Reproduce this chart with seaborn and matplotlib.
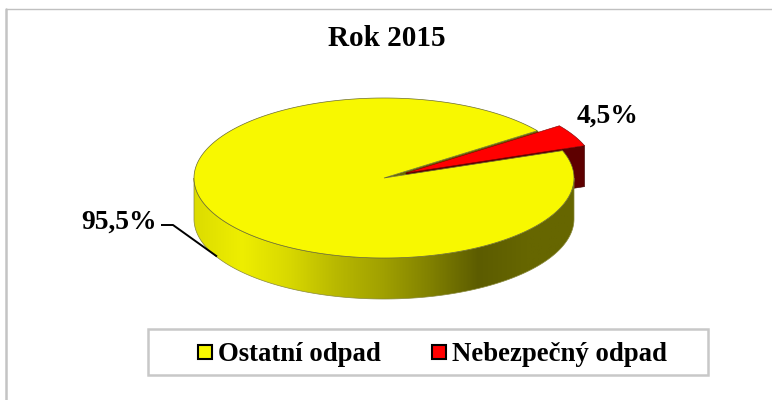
import numpy as np
import seaborn as sns
import matplotlib.pyplot as plt
from matplotlib.patches import Polygon, Rectangle
from matplotlib.lines import Line2D
from matplotlib.colors import to_rgb

# Pie "3D" drawn by hand, matplotlib has no tilted pie.

categories = ['Ostatní odpad', 'Nebezpečný odpad']
values = [95.5, 4.5]
value_labels = ['95,5%', '4,5%']
colors = ['#F8F800', '#FF0000']
title = 'Rok 2015'

sns.set_theme(style='white')
plt.rcParams['font.family'] = ['Liberation Serif', 'DejaVu Serif']

# ellipse of the pie top, in pixels
cx, cy = 384, 178
rx, ry = 190, 80
depth = 41
start = 20.0
explode = (22, -5)


def ell(t, dx=0, dy=0):
    t = np.radians(t)
    return np.column_stack([cx + rx * np.cos(t) + dx, cy - ry * np.sin(t) + dy])


fig = plt.figure(figsize=(7.72, 4.0), dpi=100)
ax = fig.add_axes([0, 0, 1, 1])

# outer border, only left and top are visible
ax.plot([6, 6], [400, 8.5], color='#c4c4c4', lw=1.8, zorder=1)
ax.plot([6, 772], [8.5, 8.5], color='#c0c0c0', lw=1.0, zorder=1)

# slice angles come from the values
red_sweep = 360 * values[1] / sum(values)
red_end = start + red_sweep
a0 = ell(start)[0]
a1 = ell(red_end)[0]

# inner wall seen through the gap
ax.add_patch(Polygon([(cx, cy), a1, a0], closed=True, fc='#6a6a00', ec='none', zorder=2))

# red slice walls
dx, dy = explode
red_arc = ell(np.linspace(start, red_end, 30), dx, dy)
p0 = (cx + dx, cy + dy)
ax.add_patch(Polygon([p0, red_arc[0], (red_arc[0][0], red_arc[0][1] + depth),
                      (p0[0], p0[1] + depth)], closed=True, fc='#5E0000', ec='#3a0000', lw=0.4, zorder=3))

# yellow side wall with gradient
low = np.linspace(180, 360, 200)
wall = np.vstack([ell(low), ell(low[::-1], 0, depth)])
grad = sns.blend_palette(['#DCDC00', '#EEEE00', '#D8D800', '#B8B800', '#A0A000', '#808000', '#5C5C00', '#666600', '#666600'], 256)
img = np.array([to_rgb(c) for c in grad])[np.newaxis, :, :]
im = ax.imshow(img, extent=[cx - rx, cx + rx, cy + ry + depth, cy], aspect='auto', zorder=4)
clip = Polygon(wall, closed=True, transform=ax.transData)
im.set_clip_path(clip)
ax.add_patch(Polygon(wall, closed=True, fc='none', ec='#88883a', lw=0.5, zorder=5))

# yellow top
top = np.vstack([[cx, cy], ell(np.linspace(red_end, start + 360, 400))])
ax.add_patch(Polygon(top, closed=True, fc=colors[0], ec='#6a6a30', lw=0.5, zorder=6))

# red top
ax.add_patch(Polygon(np.vstack([p0, red_arc]), closed=True, fc=colors[1], ec='#7a0000', lw=0.4, zorder=7))

# labels
ax.text(387, 39, title, ha='center', va='center', fontsize=21, fontweight='bold', color='black')
ax.text(119.5, 222, value_labels[0], ha='center', va='center', fontsize=19.8, fontweight='bold', color='black')
ax.text(608, 116, value_labels[1], ha='center', va='center', fontsize=19.8, fontweight='bold', color='black')
ax.plot([161, 173, 217], [225, 225, 256.5], color='black', lw=1.4, zorder=8, solid_capstyle='butt')

# legend
ax.add_patch(Rectangle((148, 329), 560, 46, fc='white', ec='#c8c8c8', lw=1.8, zorder=2))
handles = [Line2D([], [], marker='s', ls='none', mfc=c, mec='black', mew=1.5, ms=9.5) for c in colors]
ax.legend(handles, categories, ncol=2, frameon=False, loc='center', bbox_to_anchor=(429.5, 354.5),
          bbox_transform=ax.transData, prop={'size': 19.3, 'weight': 'bold'}, labelcolor='black',
          handletextpad=0.0, columnspacing=1.71, handlelength=0.95, borderpad=0)

ax.set_xlim(0, 772)
ax.set_ylim(400, 0)
ax.axis('off')

plt.savefig('out.png', dpi=100)
